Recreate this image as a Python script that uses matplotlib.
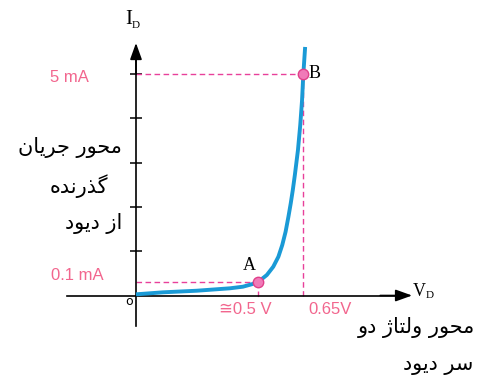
import matplotlib
matplotlib.use("Agg")
import matplotlib.pyplot as plt

# diode I-V curve (V, mA) - schematic scale
v_curve = [0, 0.105, 0.236, 0.366, 0.416, 0.450, 0.475, 0.509, 0.534, 0.554,
           0.569, 0.582, 0.593, 0.602, 0.610, 0.618, 0.630, 0.639, 0.646,
           0.651, 0.658]
i_curve = [0.027, 0.072, 0.108, 0.163, 0.199, 0.253, 0.305, 0.463, 0.650, 0.876,
           1.140, 1.440, 1.779, 2.081, 2.381, 2.72, 3.28, 3.85, 4.41,
           5.0, 5.61]
point_a = (0.475, 0.305)
point_b = (0.650, 5.0)
y_ticks = [1, 2, 3, 4, 5]

# contextual forms for the persian letters used: (isolated, final, initial, medial)
FORMS = {
    'ا': ('\uFE8D', '\uFE8E', None, None),
    'ت': ('\uFE95', '\uFE96', '\uFE97', '\uFE98'),
    'ج': ('\uFE9D', '\uFE9E', '\uFE9F', '\uFEA0'),
    'ح': ('\uFEA1', '\uFEA2', '\uFEA3', '\uFEA4'),
    'د': ('\uFEA9', '\uFEAA', None, None),
    'ذ': ('\uFEAB', '\uFEAC', None, None),
    'ر': ('\uFEAD', '\uFEAE', None, None),
    'ز': ('\uFEAF', '\uFEB0', None, None),
    'ژ': ('\uFB8A', '\uFB8B', None, None),
    'س': ('\uFEB1', '\uFEB2', '\uFEB3', '\uFEB4'),
    'ل': ('\uFEDD', '\uFEDE', '\uFEDF', '\uFEE0'),
    'م': ('\uFEE1', '\uFEE2', '\uFEE3', '\uFEE4'),
    'ن': ('\uFEE5', '\uFEE6', '\uFEE7', '\uFEE8'),
    'ه': ('\uFEE9', '\uFEEA', '\uFEEB', '\uFEEC'),
    'و': ('\uFEED', '\uFEEE', None, None),
    'ی': ('\uFBFC', '\uFBFD', '\uFBFE', '\uFBFF'),
    'گ': ('\uFB92', '\uFB93', '\uFB94', '\uFB95'),
}


def fa(s):
    """shape + reverse persian text since matplotlib has no rtl layout"""
    out = []
    for k, ch in enumerate(s):
        if ch not in FORMS:
            out.append(ch)
            continue
        prev = s[k - 1] if k > 0 else None
        nxt = s[k + 1] if k + 1 < len(s) else None
        j_prev = prev in FORMS and FORMS[prev][2] is not None
        j_next = nxt in FORMS and FORMS[ch][2] is not None
        f = FORMS[ch]
        if j_prev and j_next:
            out.append(f[3])
        elif j_prev:
            out.append(f[1])
        elif j_next:
            out.append(f[2])
        else:
            out.append(f[0])
    return ''.join(reversed(out))


PINK_TXT = '#f2668e'
PINK_DASH = '#e8409a'
BLUE = '#1a9ad6'

fig = plt.figure(figsize=(4.82, 3.80), dpi=100)
ax = fig.add_axes([0, 0, 1, 1])
ax.set_xlim(-0.529, 1.346)
ax.set_ylim(-1.907, 6.67)

for s in ['top', 'right']:
    ax.spines[s].set_visible(False)
ax.spines['left'].set_position(('data', 0))
ax.spines['bottom'].set_position(('data', 0))
ax.spines['left'].set_bounds(-0.69, 5.45)
ax.spines['bottom'].set_bounds(-0.27, 1.03)
for s in ['left', 'bottom']:
    ax.spines[s].set_linewidth(1.2)
ax.set_xticks([])
ax.set_yticks(y_ticks)
ax.set_yticklabels([])
ax.tick_params(axis='y', direction='inout', length=8.5, width=1.1)

# arrow heads
arr = dict(arrowstyle='-|>,head_length=1.0,head_width=0.36', color='black',
           lw=1.2, shrinkA=0, shrinkB=0, mutation_scale=10)
ax.annotate('', xy=(0, 5.70), xytext=(0, 5.0), arrowprops=arr)
ax.annotate('', xy=(1.074, 0), xytext=(0.95, 0), arrowprops=arr)

# dashed guides
dash = dict(color=PINK_DASH, lw=1.0, dashes=(4, 2.5))
ax.plot([0, point_b[0]], [point_b[1], point_b[1]], **dash)
ax.plot([point_b[0], point_b[0]], [point_b[1], 0], **dash)
ax.plot([0, point_a[0]], [point_a[1], point_a[1]], **dash)
ax.plot([point_a[0], point_a[0]], [point_a[1], -0.08], **dash)

ax.plot(v_curve, i_curve, color=BLUE, lw=2.8, solid_capstyle='butt',
        solid_joinstyle='round', zorder=3)
for p in [point_a, point_b]:
    ax.plot(*p, 'o', ms=7.5, mfc='#f07ab8', mec='#e0408a', mew=1.0, zorder=4)

T = ax.transAxes
W, H = 482.0, 380.0


def put(x, y, s, **kw):
    ax.text(x / W, 1 - y / H, s, transform=T, **kw)


serif = 'Liberation Serif'
put(125, 20, 'I', family=serif, fontsize=15, ha='left', va='center')
put(132, 26, 'D', family=serif, fontsize=8, ha='left', va='center')
put(413, 291, 'V', family=serif, fontsize=13, ha='left', va='center')
put(426, 295, 'D', family=serif, fontsize=8, ha='left', va='center')
put(249, 265, 'A', family=serif, fontsize=13, ha='center', va='center')
put(309, 74, 'B', family=serif, fontsize=13, ha='left', va='center')
put(129.5, 301.5, 'o', family='DejaVu Sans', fontsize=9, ha='center', va='center')

sans = ['Liberation Sans', 'DejaVu Sans']
put(89, 77, '5 mA', family=sans, fontsize=12, color=PINK_TXT, ha='right', va='center')
put(104, 275, '0.1 mA', family=sans, fontsize=12, color=PINK_TXT, ha='right', va='center')
put(245, 309, '≅0.5 V', family=sans, fontsize=12, color=PINK_TXT, ha='center', va='center')
put(330, 309, '0.65V', family=sans, fontsize=12, color=PINK_TXT, ha='center', va='center')

fa_kw = dict(family='DejaVu Sans', fontsize=15, color='black', ha='right', va='center')
put(122, 148, fa('محور جریان'), **fa_kw)
put(108, 186, fa('گذرنده'), **fa_kw)
put(122, 224, fa('از دیود'), **fa_kw)
put(475, 327, fa('محور ولتاژ دو'), **fa_kw)
put(473, 365, fa('سر دیود'), **fa_kw)

fig.savefig('out.png', dpi=100, facecolor='white')
